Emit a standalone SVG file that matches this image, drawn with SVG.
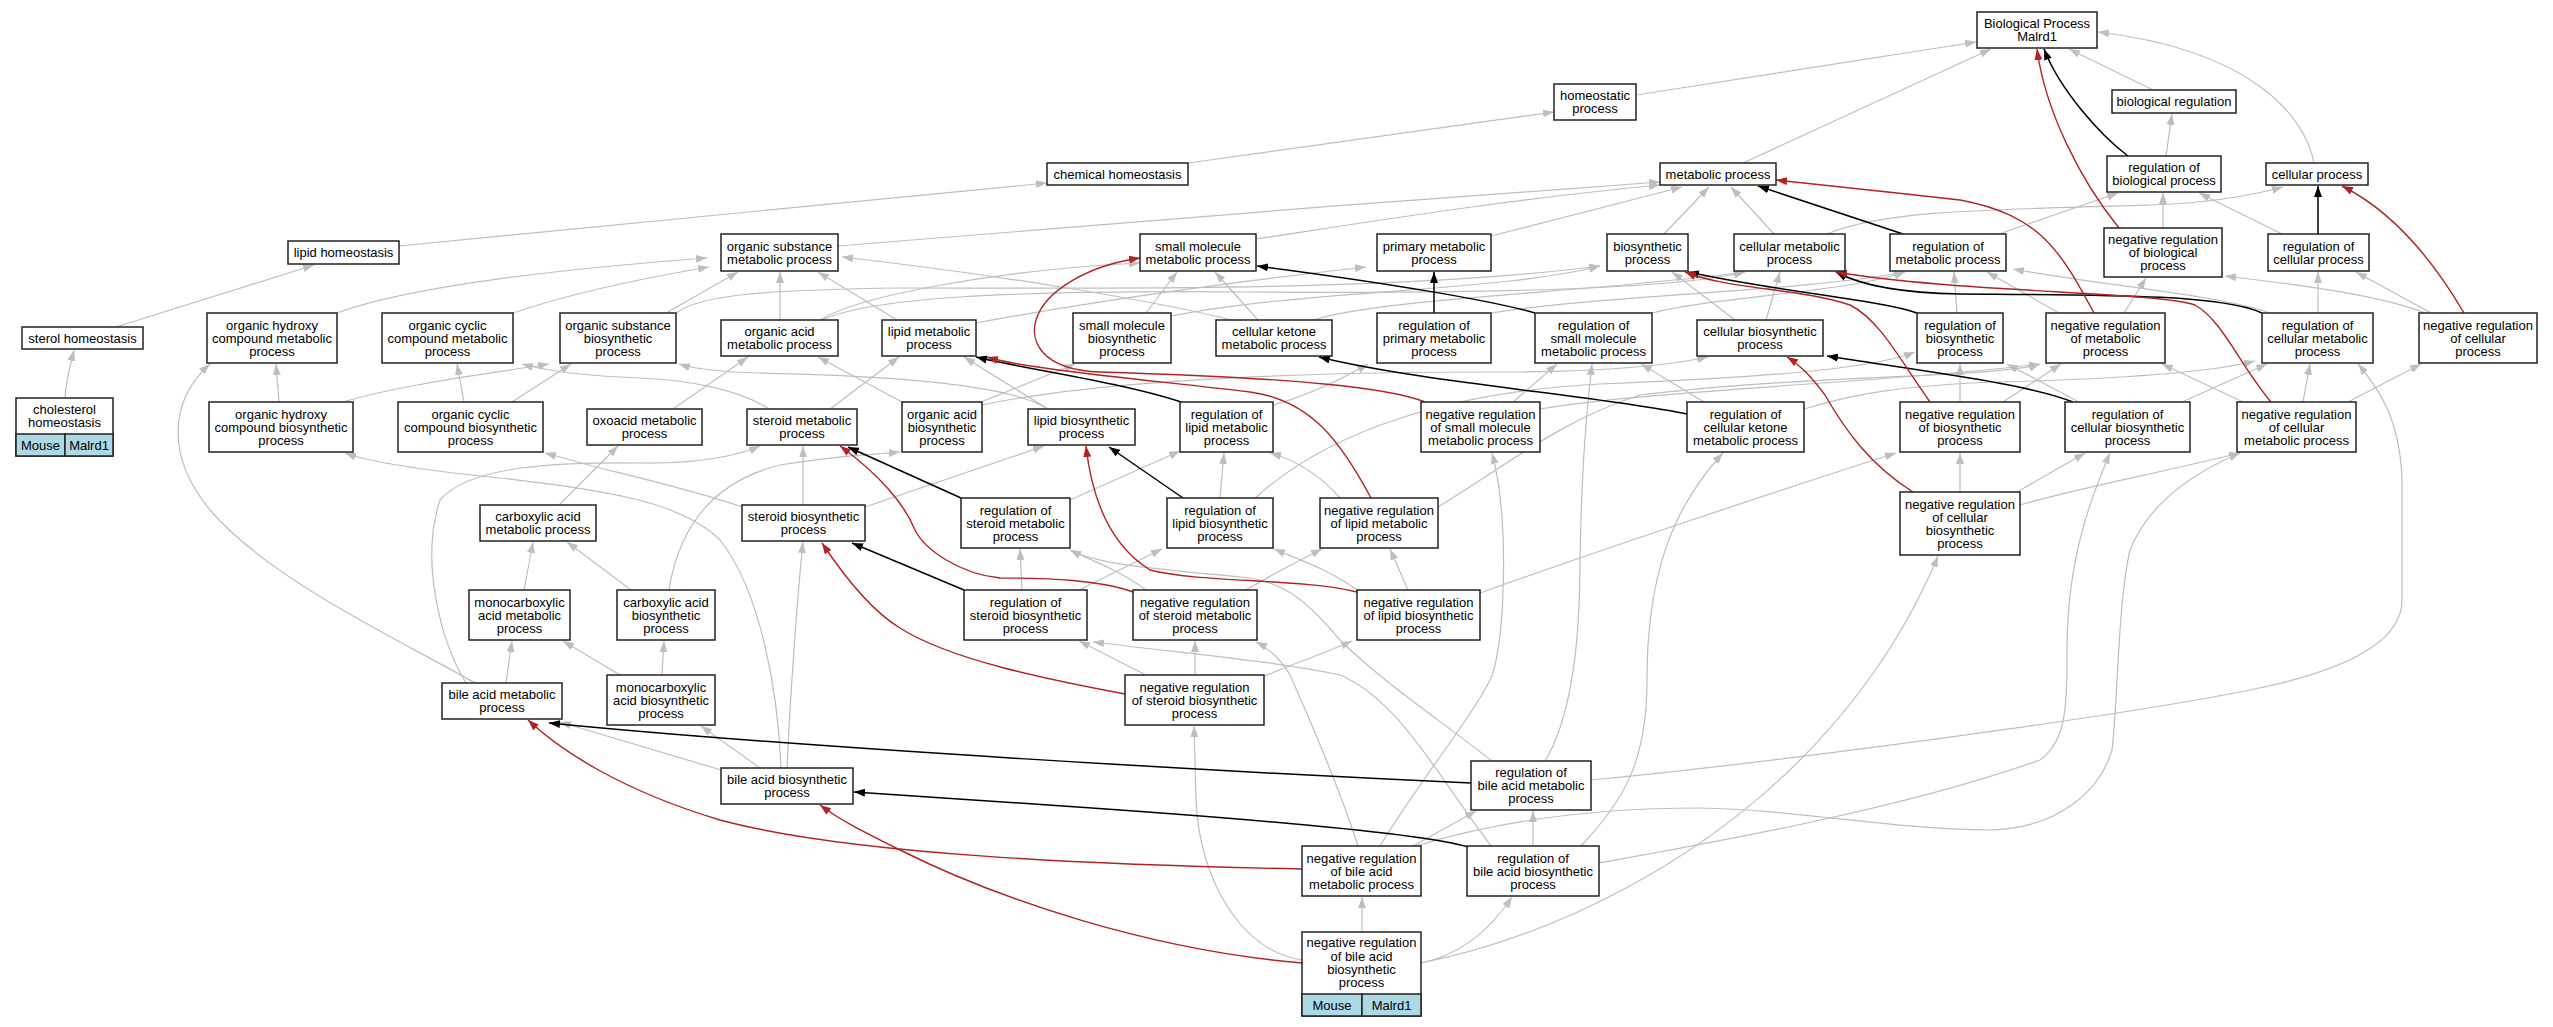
<svg xmlns="http://www.w3.org/2000/svg" width="2553" height="1027" viewBox="0 0 2553 1027">
<style>
text{font-family:"Liberation Sans",Arial,sans-serif;font-size:13px;text-anchor:middle;fill:#000}
.n rect{fill:#fff;stroke:#222;stroke-width:1.5}
.n .b{fill:#add8e6}
.n line{stroke:#222;stroke-width:1.5}
.g{fill:none;stroke:#bebebe;stroke-width:1.2;marker-end:url(#ag)}
.k{fill:none;stroke:#000;stroke-width:1.5;marker-end:url(#ak)}
.r{fill:none;stroke:#b22222;stroke-width:1.4;marker-end:url(#ar)}
</style>
<defs>
<marker id="ag" viewBox="0 0 11 8" refX="11" refY="4" markerWidth="11" markerHeight="8" markerUnits="userSpaceOnUse" orient="auto"><path d="M0,0L11,4L0,8z" fill="#bebebe"/></marker>
<marker id="ak" viewBox="0 0 11 8" refX="11" refY="4" markerWidth="11" markerHeight="8" markerUnits="userSpaceOnUse" orient="auto"><path d="M0,0L11,4L0,8z" fill="#000"/></marker>
<marker id="ar" viewBox="0 0 11 8" refX="11" refY="4" markerWidth="11" markerHeight="8" markerUnits="userSpaceOnUse" orient="auto"><path d="M0,0L11,4L0,8z" fill="#b22222"/></marker>
</defs>
<rect width="2553" height="1027" fill="#fff"/>
<g id="edges">
<path class="g" d="M1636,95 L1976,42"/>
<path class="g" d="M2153,90 L2069,49"/>
<path class="g" d="M1743,163 L1991,49"/>
<path class="g" d="M2314,163 C2305,115 2250,50 2098,32"/>
<path class="g" d="M1188,163 L1554,112"/>
<path class="g" d="M399,246 L1047,183"/>
<path class="g" d="M116,327 L314,265"/>
<path class="g" d="M65,398 C66,380 70,366 74,350"/>
<path class="g" d="M2166,156 L2172,114"/>
<path class="g" d="M838,246 C1000,232 1400,200 1660,182"/>
<path class="g" d="M1256,239 C1350,225 1500,200 1660,185"/>
<path class="g" d="M1491,236 L1682,187"/>
<path class="g" d="M1664,234 L1709,187"/>
<path class="g" d="M1774,234 L1731,187"/>
<path class="g" d="M1827,234 C1880,212 1960,210 2150,205 C2210,203 2250,196 2283,187"/>
<path class="g" d="M1999,234 L2118,193"/>
<path class="g" d="M2163,228 L2163,193"/>
<path class="g" d="M2282,234 L2199,193"/>
<path class="g" d="M337,313 C400,290 520,272 707,258"/>
<path class="g" d="M513,313 C560,297 620,282 709,267"/>
<path class="g" d="M666,313 L738,272"/>
<path class="g" d="M780,320 L780,272"/>
<path class="g" d="M897,320 L818,272"/>
<path class="g" d="M1232,320 C1150,300 1000,275 842,257"/>
<path class="g" d="M1146,313 L1177,272"/>
<path class="g" d="M1258,320 L1215,272"/>
<path class="g" d="M820,320 C860,295 1000,270 1140,263"/>
<path class="g" d="M822,320 C870,298 1000,290 1250,292 C1500,294 1680,288 1745,272"/>
<path class="g" d="M976,323 C1100,300 1250,280 1366,267"/>
<path class="g" d="M1171,316 C1300,290 1500,292 1600,266"/>
<path class="g" d="M676,313 C700,295 760,290 900,288 C1100,288 1400,292 1600,266"/>
<path class="g" d="M1735,320 L1672,272"/>
<path class="g" d="M1766,320 L1780,272"/>
<path class="g" d="M1313,320 C1380,298 1600,292 1745,272"/>
<path class="g" d="M1491,313 C1600,295 1800,292 1905,272"/>
<path class="g" d="M1652,313 C1720,296 1850,292 1905,272"/>
<path class="g" d="M1957,313 L1954,272"/>
<path class="g" d="M2059,313 L1987,272"/>
<path class="g" d="M2270,313 C2220,295 2100,285 2013,269"/>
<path class="g" d="M2124,313 L2146,278"/>
<path class="g" d="M2425,313 C2380,295 2300,285 2225,276"/>
<path class="g" d="M2318,313 L2318,272"/>
<path class="g" d="M2431,313 L2356,272"/>
<path class="g" d="M279,402 L276,364"/>
<path class="g" d="M343,402 C400,385 480,375 549,364"/>
<path class="g" d="M464,402 L457,364"/>
<path class="g" d="M512,402 L571,364"/>
<path class="g" d="M769,409 C740,390 690,380 640,378 C590,376 550,372 522,364"/>
<path class="g" d="M1048,409 C1010,385 900,376 760,373 C720,372 695,369 679,364"/>
<path class="g" d="M673,409 L748,357"/>
<path class="g" d="M902,402 L818,357"/>
<path class="g" d="M830,409 L899,357"/>
<path class="g" d="M1048,409 L964,357"/>
<path class="g" d="M981,402 L1075,364"/>
<path class="g" d="M559,505 L618,446"/>
<path class="g" d="M803,505 L803,446"/>
<path class="g" d="M865,507 L1044,446"/>
<path class="g" d="M742,507 C700,492 640,478 600,468 L545,453"/>
<path class="g" d="M982,405 C1100,380 1300,372 1500,372 C1600,372 1670,365 1708,357"/>
<path class="g" d="M1273,405 C1310,395 1340,380 1368,364"/>
<path class="g" d="M1255,498 C1330,430 1450,392 1600,384 C1750,378 1870,370 1915,352"/>
<path class="g" d="M1438,507 C1500,470 1560,420 1640,395 C1800,375 2000,378 2040,364"/>
<path class="g" d="M1540,409 C1650,390 1900,382 2040,364"/>
<path class="g" d="M1513,402 L1557,364"/>
<path class="g" d="M1704,402 L1641,364"/>
<path class="g" d="M1804,409 C1850,395 1900,385 2000,382 C2150,378 2220,370 2255,361"/>
<path class="g" d="M2003,402 L2061,364"/>
<path class="g" d="M1960,402 L1960,364"/>
<path class="g" d="M2079,402 L2007,364"/>
<path class="g" d="M2182,402 L2267,364"/>
<path class="g" d="M2303,402 L2310,364"/>
<path class="g" d="M2243,402 L2162,364"/>
<path class="g" d="M2348,402 L2421,364"/>
<path class="g" d="M1960,492 L1960,453"/>
<path class="g" d="M2017,492 L2085,453"/>
<path class="g" d="M2020,505 C2070,490 2150,475 2240,453"/>
<path class="g" d="M1480,593 C1600,550 1780,490 1896,453"/>
<path class="g" d="M1360,592 C1330,570 1300,560 1274,549"/>
<path class="g" d="M1408,590 L1390,549"/>
<path class="g" d="M1340,498 C1320,475 1295,460 1270,453"/>
<path class="g" d="M1246,590 C1280,570 1300,560 1322,549"/>
<path class="g" d="M1146,590 C1120,570 1090,560 1070,550"/>
<path class="g" d="M1146,675 L1079,641"/>
<path class="g" d="M1195,675 L1195,641"/>
<path class="g" d="M1260,678 C1290,665 1320,655 1352,641"/>
<path class="g" d="M1070,500 L1180,451"/>
<path class="g" d="M1022,590 L1020,549"/>
<path class="g" d="M1079,590 L1162,549"/>
<path class="g" d="M1220,498 L1224,453"/>
<path class="g" d="M721,770 L560,722"/>
<path class="g" d="M760,768 L701,726"/>
<path class="g" d="M787,768 C790,700 797,600 803,542"/>
<path class="g" d="M781,768 C778,690 760,590 720,540 C680,500 600,490 500,478 C420,470 370,462 345,453"/>
<path class="g" d="M506,683 L512,641"/>
<path class="g" d="M524,590 L533,542"/>
<path class="g" d="M631,590 L567,542"/>
<path class="g" d="M620,675 L563,641"/>
<path class="g" d="M662,675 L664,641"/>
<path class="g" d="M669,590 C680,520 720,480 780,465 C840,455 870,455 900,452"/>
<path class="g" d="M475,683 C400,640 270,580 210,510 C165,455 170,400 210,364"/>
<path class="g" d="M466,683 C440,640 420,560 440,500 C470,465 560,462 640,463 C700,464 740,455 760,446"/>
<path class="g" d="M1492,761 C1440,720 1380,680 1340,640 C1310,605 1290,585 1250,578 C1150,568 1100,565 1070,550"/>
<path class="g" d="M1492,847 C1440,780 1400,700 1340,675 C1280,662 1200,655 1093,642"/>
<path class="g" d="M1358,846 C1340,790 1310,720 1290,675 C1280,658 1268,648 1256,642"/>
<path class="g" d="M1380,846 C1420,780 1470,720 1490,680 C1505,650 1510,520 1492,453"/>
<path class="g" d="M1545,761 C1570,720 1580,650 1580,560 C1582,450 1588,400 1592,364"/>
<path class="g" d="M1580,847 C1625,800 1647,760 1647,680 C1647,580 1670,510 1723,453"/>
<path class="g" d="M1413,846 L1476,811"/>
<path class="g" d="M1533,846 L1533,811"/>
<path class="g" d="M1421,963 C1460,955 1490,930 1512,897"/>
<path class="g" d="M1362,932 L1362,897"/>
<path class="g" d="M1302,960 C1240,950 1200,880 1196,800 L1194,726"/>
<path class="g" d="M1421,963 C1560,935 1700,860 1800,760 C1880,680 1920,600 1938,556"/>
<path class="g" d="M1599,863 C1700,845 1900,810 2040,760 C2068,740 2067,700 2067,650 C2067,560 2090,500 2110,453"/>
<path class="g" d="M1591,780 C1750,765 2100,720 2250,690 C2350,670 2402,640 2402,600 L2402,480 C2400,420 2380,390 2358,364"/>
<path class="g" d="M1413,847 C1500,820 1600,808 1700,808 C1800,810 1900,830 1990,830 C2060,828 2100,790 2112,750 C2118,700 2118,600 2130,550 C2150,500 2200,470 2240,453"/>
<path class="k" d="M2128,156 C2100,135 2060,90 2044,49"/>
<path class="k" d="M2318,234 L2318,186"/>
<path class="k" d="M1903,234 L1758,186"/>
<path class="k" d="M1434,313 L1434,272"/>
<path class="k" d="M1535,313 C1490,300 1380,282 1257,266"/>
<path class="k" d="M1687,414 C1600,396 1420,382 1319,357"/>
<path class="k" d="M2073,402 C2030,385 1950,375 1827,356"/>
<path class="k" d="M1917,313 C1880,300 1780,292 1688,272"/>
<path class="k" d="M2262,313 C2220,294 2100,295 1960,294 C1900,293 1860,285 1836,272"/>
<path class="k" d="M1181,402 C1120,382 1020,368 976,357"/>
<path class="k" d="M961,498 L848,447"/>
<path class="k" d="M1183,498 L1109,447"/>
<path class="k" d="M964,590 L852,543"/>
<path class="k" d="M1471,783 C1250,773 800,748 549,723"/>
<path class="k" d="M1468,847 C1430,835 1300,822 1048,805 L854,792"/>
<path class="r" d="M2119,228 C2080,180 2045,110 2037,49"/>
<path class="r" d="M2464,313 C2430,255 2390,210 2342,186"/>
<path class="r" d="M2094,313 C2060,250 2040,215 1960,200 C1900,193 1850,188 1776,180"/>
<path class="r" d="M2271,402 C2240,365 2222,320 2195,305 C2160,292 1950,292 1836,272"/>
<path class="r" d="M1930,402 C1900,360 1880,320 1850,305 C1800,288 1730,290 1685,272"/>
<path class="r" d="M1913,492 C1870,465 1845,430 1825,395 C1810,375 1800,365 1787,357"/>
<path class="r" d="M1425,402 C1390,388 1300,378 1100,372 C1040,370 1030,340 1036,320 C1045,290 1090,265 1140,258"/>
<path class="r" d="M1371,498 C1340,440 1310,400 1250,392 C1150,380 1030,370 987,357"/>
<path class="r" d="M1357,592 C1300,578 1200,583 1150,570 C1110,545 1092,500 1086,446"/>
<path class="r" d="M1133,592 C1100,580 1050,578 1000,578 C960,574 925,550 915,530 C905,505 880,475 840,446"/>
<path class="r" d="M1125,694 C1050,680 950,660 900,628 C870,610 840,570 822,543"/>
<path class="r" d="M1302,869 C1100,865 850,855 720,820 C620,790 560,750 528,720"/>
<path class="r" d="M1302,963 C1150,950 1000,900 900,850 C860,830 840,820 820,805"/>
</g>
<g id="n1" class="n"><rect x="1977" y="12" width="120" height="36"/><text x="2037" y="28">Biological Process</text><text x="2037" y="41">Malrd1</text></g>
<g id="n2" class="n"><rect x="1554" y="84" width="82" height="36"/><text x="1595" y="100">homeostatic</text><text x="1595" y="113">process</text></g>
<g id="n3" class="n"><rect x="2112" y="90" width="124" height="23"/><text x="2174" y="106">biological regulation</text></g>
<g id="n4" class="n"><rect x="1047" y="163" width="141" height="22"/><text x="1117.5" y="178.5">chemical homeostasis</text></g>
<g id="n5" class="n"><rect x="1660" y="163" width="116" height="22"/><text x="1718" y="178.5">metabolic process</text></g>
<g id="n6" class="n"><rect x="2266" y="163" width="102" height="22"/><text x="2317" y="178.5">cellular process</text></g>
<g id="n7" class="n"><rect x="2107" y="156" width="114" height="36"/><text x="2164" y="172">regulation of</text><text x="2164" y="185">biological process</text></g>
<g id="n8" class="n"><rect x="288" y="241" width="111" height="23"/><text x="343.5" y="257">lipid homeostasis</text></g>
<g id="n9" class="n"><rect x="721" y="234" width="117" height="37"/><text x="779.5" y="250.5">organic substance</text><text x="779.5" y="263.5">metabolic process</text></g>
<g id="n10" class="n"><rect x="1140" y="234" width="116" height="37"/><text x="1198" y="250.5">small molecule</text><text x="1198" y="263.5">metabolic process</text></g>
<g id="n11" class="n"><rect x="1377" y="234" width="114" height="37"/><text x="1434" y="250.5">primary metabolic</text><text x="1434" y="263.5">process</text></g>
<g id="n12" class="n"><rect x="1607" y="234" width="81" height="37"/><text x="1647.5" y="250.5">biosynthetic</text><text x="1647.5" y="263.5">process</text></g>
<g id="n13" class="n"><rect x="1734" y="234" width="111" height="37"/><text x="1789.5" y="250.5">cellular metabolic</text><text x="1789.5" y="263.5">process</text></g>
<g id="n14" class="n"><rect x="1890" y="234" width="116" height="37"/><text x="1948" y="250.5">regulation of</text><text x="1948" y="263.5">metabolic process</text></g>
<g id="n15" class="n"><rect x="2104" y="228" width="118" height="49"/><text x="2163" y="244">negative regulation</text><text x="2163" y="257">of biological</text><text x="2163" y="270">process</text></g>
<g id="n16" class="n"><rect x="2268" y="234" width="101" height="37"/><text x="2318.5" y="250.5">regulation of</text><text x="2318.5" y="263.5">cellular process</text></g>
<g id="n17" class="n"><rect x="22" y="327" width="121" height="22"/><text x="82.5" y="342.5">sterol homeostasis</text></g>
<g id="n18" class="n"><rect x="207" y="313" width="130" height="50"/><text x="272" y="329.5">organic hydroxy</text><text x="272" y="342.5">compound metabolic</text><text x="272" y="355.5">process</text></g>
<g id="n19" class="n"><rect x="382" y="313" width="131" height="50"/><text x="447.5" y="329.5">organic cyclic</text><text x="447.5" y="342.5">compound metabolic</text><text x="447.5" y="355.5">process</text></g>
<g id="n20" class="n"><rect x="560" y="313" width="116" height="50"/><text x="618" y="329.5">organic substance</text><text x="618" y="342.5">biosynthetic</text><text x="618" y="355.5">process</text></g>
<g id="n21" class="n"><rect x="721" y="320" width="117" height="36"/><text x="779.5" y="336">organic acid</text><text x="779.5" y="349">metabolic process</text></g>
<g id="n22" class="n"><rect x="882" y="320" width="94" height="36"/><text x="929" y="336">lipid metabolic</text><text x="929" y="349">process</text></g>
<g id="n23" class="n"><rect x="1073" y="313" width="98" height="50"/><text x="1122" y="329.5">small molecule</text><text x="1122" y="342.5">biosynthetic</text><text x="1122" y="355.5">process</text></g>
<g id="n24" class="n"><rect x="1216" y="320" width="116" height="36"/><text x="1274" y="336">cellular ketone</text><text x="1274" y="349">metabolic process</text></g>
<g id="n25" class="n"><rect x="1377" y="313" width="114" height="50"/><text x="1434" y="329.5">regulation of</text><text x="1434" y="342.5">primary metabolic</text><text x="1434" y="355.5">process</text></g>
<g id="n26" class="n"><rect x="1535" y="313" width="117" height="50"/><text x="1593.5" y="329.5">regulation of</text><text x="1593.5" y="342.5">small molecule</text><text x="1593.5" y="355.5">metabolic process</text></g>
<g id="n27" class="n"><rect x="1697" y="320" width="126" height="36"/><text x="1760" y="336">cellular biosynthetic</text><text x="1760" y="349">process</text></g>
<g id="n28" class="n"><rect x="1917" y="313" width="86" height="50"/><text x="1960" y="329.5">regulation of</text><text x="1960" y="342.5">biosynthetic</text><text x="1960" y="355.5">process</text></g>
<g id="n29" class="n"><rect x="2046" y="313" width="119" height="50"/><text x="2105.5" y="329.5">negative regulation</text><text x="2105.5" y="342.5">of metabolic</text><text x="2105.5" y="355.5">process</text></g>
<g id="n30" class="n"><rect x="2262" y="313" width="111" height="50"/><text x="2317.5" y="329.5">regulation of</text><text x="2317.5" y="342.5">cellular metabolic</text><text x="2317.5" y="355.5">process</text></g>
<g id="n31" class="n"><rect x="2419" y="313" width="118" height="50"/><text x="2478" y="329.5">negative regulation</text><text x="2478" y="342.5">of cellular</text><text x="2478" y="355.5">process</text></g>
<g id="n32" class="n"><rect x="16" y="398" width="97" height="58"/><rect class="b" x="16" y="434" width="49" height="22"/><rect class="b" x="65" y="434" width="48" height="22"/><text x="64.5" y="414">cholesterol</text><text x="64.5" y="427">homeostasis</text><text x="40.5" y="449.5">Mouse</text><text x="89" y="449.5">Malrd1</text></g>
<g id="n33" class="n"><rect x="209" y="402" width="144" height="50"/><text x="281" y="418.5">organic hydroxy</text><text x="281" y="431.5">compound biosynthetic</text><text x="281" y="444.5">process</text></g>
<g id="n34" class="n"><rect x="398" y="402" width="145" height="50"/><text x="470.5" y="418.5">organic cyclic</text><text x="470.5" y="431.5">compound biosynthetic</text><text x="470.5" y="444.5">process</text></g>
<g id="n35" class="n"><rect x="587" y="409" width="115" height="36"/><text x="644.5" y="425">oxoacid metabolic</text><text x="644.5" y="438">process</text></g>
<g id="n36" class="n"><rect x="747" y="409" width="110" height="36"/><text x="802" y="425">steroid metabolic</text><text x="802" y="438">process</text></g>
<g id="n37" class="n"><rect x="902" y="402" width="80" height="50"/><text x="942" y="418.5">organic acid</text><text x="942" y="431.5">biosynthetic</text><text x="942" y="444.5">process</text></g>
<g id="n38" class="n"><rect x="1028" y="409" width="107" height="36"/><text x="1081.5" y="425">lipid biosynthetic</text><text x="1081.5" y="438">process</text></g>
<g id="n39" class="n"><rect x="1180" y="402" width="93" height="50"/><text x="1226.5" y="418.5">regulation of</text><text x="1226.5" y="431.5">lipid metabolic</text><text x="1226.5" y="444.5">process</text></g>
<g id="n40" class="n"><rect x="1421" y="402" width="119" height="50"/><text x="1480.5" y="418.5">negative regulation</text><text x="1480.5" y="431.5">of small molecule</text><text x="1480.5" y="444.5">metabolic process</text></g>
<g id="n41" class="n"><rect x="1687" y="402" width="117" height="50"/><text x="1745.5" y="418.5">regulation of</text><text x="1745.5" y="431.5">cellular ketone</text><text x="1745.5" y="444.5">metabolic process</text></g>
<g id="n42" class="n"><rect x="1900" y="402" width="120" height="50"/><text x="1960" y="418.5">negative regulation</text><text x="1960" y="431.5">of biosynthetic</text><text x="1960" y="444.5">process</text></g>
<g id="n43" class="n"><rect x="2065" y="402" width="125" height="50"/><text x="2127.5" y="418.5">regulation of</text><text x="2127.5" y="431.5">cellular biosynthetic</text><text x="2127.5" y="444.5">process</text></g>
<g id="n44" class="n"><rect x="2237" y="402" width="119" height="50"/><text x="2296.5" y="418.5">negative regulation</text><text x="2296.5" y="431.5">of cellular</text><text x="2296.5" y="444.5">metabolic process</text></g>
<g id="n45" class="n"><rect x="480" y="505" width="116" height="36"/><text x="538" y="521">carboxylic acid</text><text x="538" y="534">metabolic process</text></g>
<g id="n46" class="n"><rect x="742" y="505" width="123" height="36"/><text x="803.5" y="521">steroid biosynthetic</text><text x="803.5" y="534">process</text></g>
<g id="n47" class="n"><rect x="961" y="498" width="109" height="50"/><text x="1015.5" y="514.5">regulation of</text><text x="1015.5" y="527.5">steroid metabolic</text><text x="1015.5" y="540.5">process</text></g>
<g id="n48" class="n"><rect x="1167" y="498" width="106" height="50"/><text x="1220" y="514.5">regulation of</text><text x="1220" y="527.5">lipid biosynthetic</text><text x="1220" y="540.5">process</text></g>
<g id="n49" class="n"><rect x="1320" y="498" width="118" height="50"/><text x="1379" y="514.5">negative regulation</text><text x="1379" y="527.5">of lipid metabolic</text><text x="1379" y="540.5">process</text></g>
<g id="n50" class="n"><rect x="1900" y="492" width="120" height="63"/><text x="1960" y="508.5">negative regulation</text><text x="1960" y="521.5">of cellular</text><text x="1960" y="534.5">biosynthetic</text><text x="1960" y="547.5">process</text></g>
<g id="n51" class="n"><rect x="469" y="590" width="101" height="50"/><text x="519.5" y="606.5">monocarboxylic</text><text x="519.5" y="619.5">acid metabolic</text><text x="519.5" y="632.5">process</text></g>
<g id="n52" class="n"><rect x="617" y="590" width="98" height="50"/><text x="666" y="606.5">carboxylic acid</text><text x="666" y="619.5">biosynthetic</text><text x="666" y="632.5">process</text></g>
<g id="n53" class="n"><rect x="964" y="590" width="123" height="50"/><text x="1025.5" y="606.5">regulation of</text><text x="1025.5" y="619.5">steroid biosynthetic</text><text x="1025.5" y="632.5">process</text></g>
<g id="n54" class="n"><rect x="1133" y="590" width="124" height="50"/><text x="1195" y="606.5">negative regulation</text><text x="1195" y="619.5">of steroid metabolic</text><text x="1195" y="632.5">process</text></g>
<g id="n55" class="n"><rect x="1357" y="590" width="123" height="50"/><text x="1418.5" y="606.5">negative regulation</text><text x="1418.5" y="619.5">of lipid biosynthetic</text><text x="1418.5" y="632.5">process</text></g>
<g id="n56" class="n"><rect x="442" y="683" width="120" height="36"/><text x="502" y="699">bile acid metabolic</text><text x="502" y="712">process</text></g>
<g id="n57" class="n"><rect x="607" y="675" width="108" height="50"/><text x="661" y="691.5">monocarboxylic</text><text x="661" y="704.5">acid biosynthetic</text><text x="661" y="717.5">process</text></g>
<g id="n58" class="n"><rect x="1125" y="675" width="139" height="50"/><text x="1194.5" y="691.5">negative regulation</text><text x="1194.5" y="704.5">of steroid biosynthetic</text><text x="1194.5" y="717.5">process</text></g>
<g id="n59" class="n"><rect x="721" y="768" width="132" height="36"/><text x="787" y="784">bile acid biosynthetic</text><text x="787" y="797">process</text></g>
<g id="n60" class="n"><rect x="1471" y="761" width="120" height="49"/><text x="1531" y="777">regulation of</text><text x="1531" y="790">bile acid metabolic</text><text x="1531" y="803">process</text></g>
<g id="n61" class="n"><rect x="1302" y="846" width="119" height="50"/><text x="1361.5" y="862.5">negative regulation</text><text x="1361.5" y="875.5">of bile acid</text><text x="1361.5" y="888.5">metabolic process</text></g>
<g id="n62" class="n"><rect x="1467" y="846" width="132" height="50"/><text x="1533" y="862.5">regulation of</text><text x="1533" y="875.5">bile acid biosynthetic</text><text x="1533" y="888.5">process</text></g>
<g id="n63" class="n"><rect x="1302" y="932" width="119" height="84"/><rect class="b" x="1302" y="994" width="60" height="22"/><rect class="b" x="1362" y="994" width="59" height="22"/><text x="1361.5" y="947">negative regulation</text><text x="1361.5" y="960.5">of bile acid</text><text x="1361.5" y="974">biosynthetic</text><text x="1361.5" y="987">process</text><text x="1332" y="1009.5">Mouse</text><text x="1391.5" y="1009.5">Malrd1</text></g>
</svg>
